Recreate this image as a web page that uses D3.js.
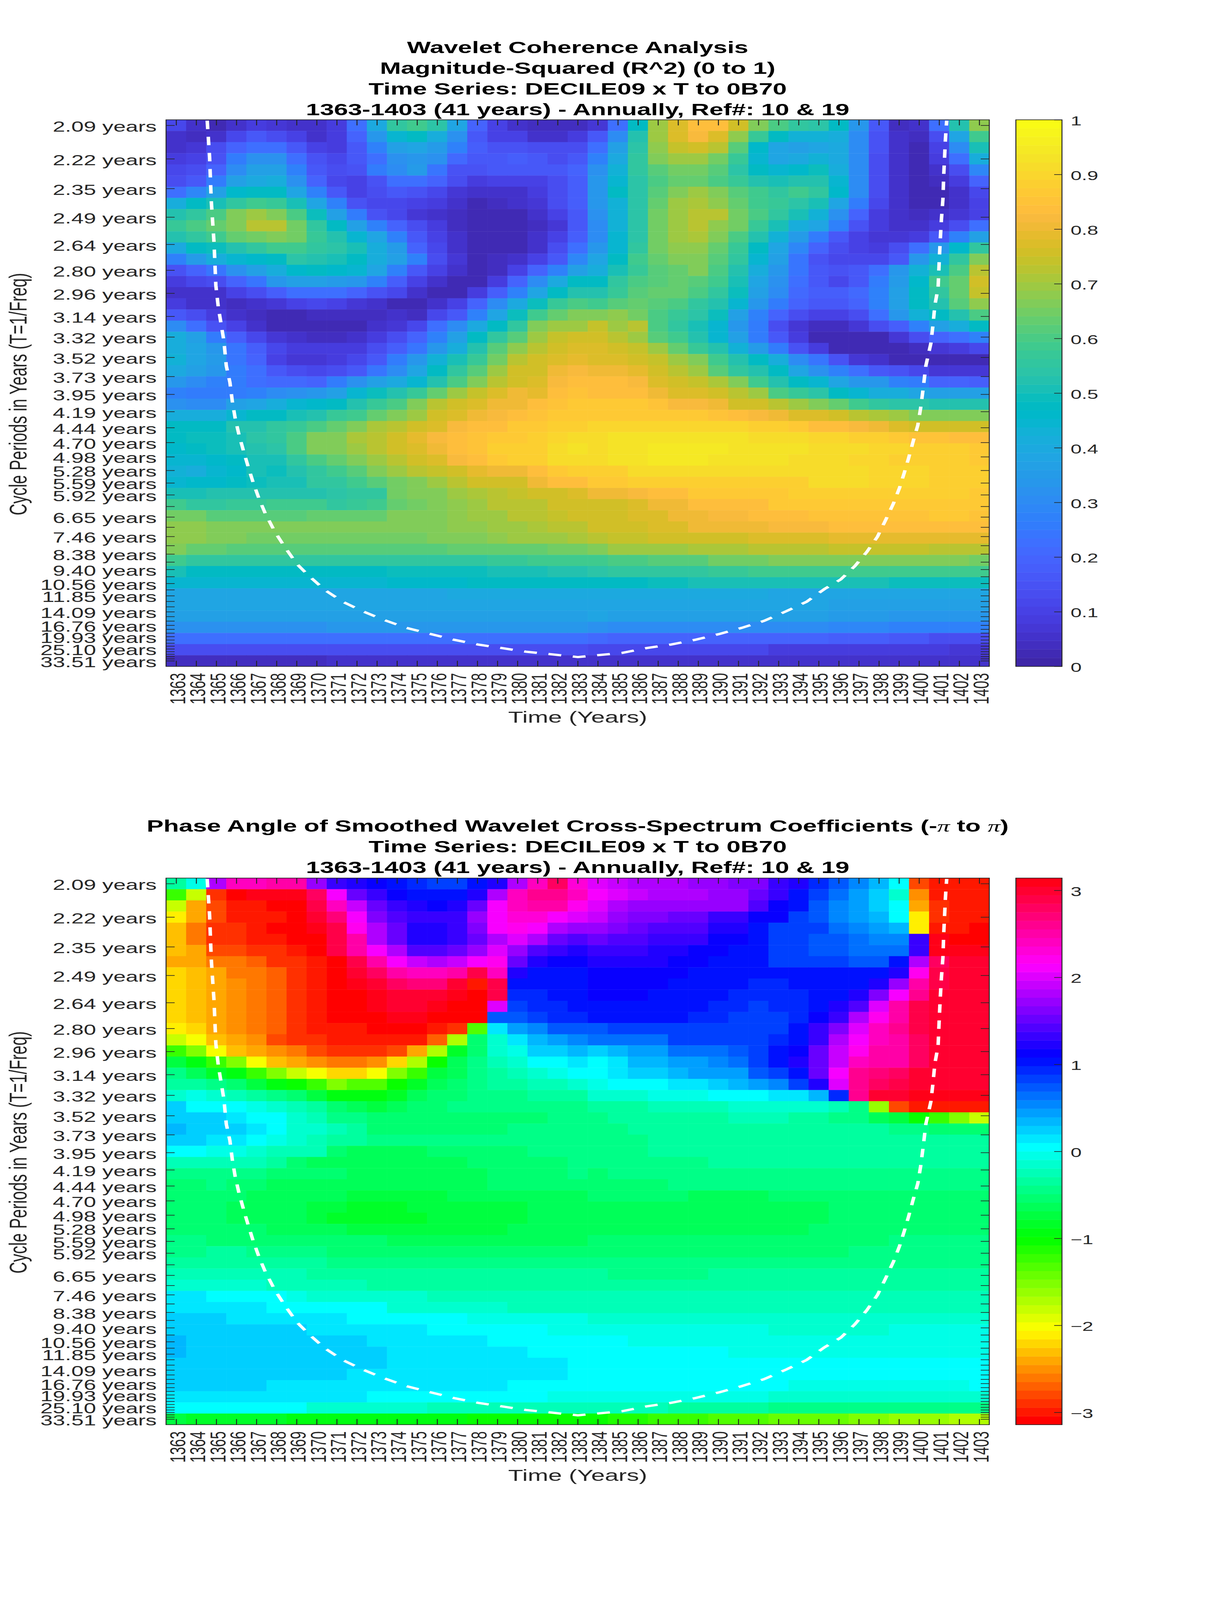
<!DOCTYPE html>
<html>
<head>
<meta charset="utf-8">
<style>
  html, body { margin: 0; height: 100%; overflow: hidden; background: #fff; }
  #chart { width: 100vw; height: 100vh; }
  text { font-family: "Liberation Sans", Arial, sans-serif; }
</style>
<script src="https://cdn.jsdelivr.net/npm/d3@7"></script>
</head>
<body>
<div id="chart"></div>
<script>
const years = d3.range(1363, 1404);

// every tick on the period axis, only some of them carry a label
const periodTicks = [2.09, 2.22, 2.35, 2.49, 2.64, 2.80, 2.96, 3.14, 3.32, 3.52, 3.73, 3.95, 4.19, 4.44, 4.70, 4.98, 5.28, 5.59, 5.92,
  6.28, 6.65, 7.05, 7.46, 7.91, 8.38, 8.88, 9.40, 9.96, 10.56, 11.19, 11.85, 12.55, 13.30, 14.09, 14.93, 15.82, 16.76, 17.76, 18.81,
  19.93, 21.11, 22.37, 23.70, 25.10, 26.60, 28.18, 29.85, 31.63, 33.51];
const periodLabels = ["2.09", "2.22", "2.35", "2.49", "2.64", "2.80", "2.96", "3.14", "3.32", "3.52", "3.73", "3.95", "4.19", "4.44", "4.70",
  "4.98", "5.28", "5.59", "5.92", "6.65", "7.46", "8.38", "9.40", "10.56", "11.85", "14.09", "16.76", "19.93", "25.10", "33.51"];

const coherenceTicks = [0, 0.1, 0.2, 0.3, 0.4, 0.5, 0.6, 0.7, 0.8, 0.9, 1];
const phaseTicks = [-3, -2, -1, 0, 1, 2, 3];

// cone of influence
const coiYears = [1364.55, 1364.67, 1364.75, 1364.89, 1364.98, 1365.10, 1365.38, 1365.50, 1365.68, 1365.80, 1365.94, 1366.13, 1366.36, 1366.57,
  1366.83, 1367.13, 1367.43, 1367.92, 1368.42, 1369.01, 1369.61, 1370.40, 1371.30, 1372.29, 1373.28, 1374.47, 1375.67, 1376.85, 1378.05, 1379.24,
  1380.43, 1381.62, 1383.01, 1385.22, 1386.42, 1387.64, 1388.85, 1390.06, 1391.17, 1392.28, 1393.39, 1394.40, 1395.30, 1396.10, 1396.80, 1397.40,
  1397.93, 1398.34, 1398.73, 1399.03, 1399.27, 1399.48, 1399.70, 1399.94, 1400.08, 1400.20, 1400.34, 1400.59, 1400.69, 1400.79, 1400.95, 1401.00,
  1401.05, 1401.11, 1401.19, 1401.23, 1401.27, 1401.31, 1401.35, 1401.38];
const coiPeriods = [2.073, 2.216, 2.406, 2.632, 2.904, 3.064, 3.357, 3.61, 3.80, 4.045, 4.286, 4.558, 4.866, 5.166,
  5.567, 6.036, 6.503, 7.25, 8.0, 9.0, 9.89, 11.2, 12.6, 14.0, 15.5, 17.4, 19.1, 21.07, 23.0, 24.7,
  26.7, 28.2, 30.3, 27.4, 24.7, 23.0, 21.07, 19.1, 17.4, 15.8, 14.0, 12.6, 11.1, 10.2, 9.16, 8.26,
  7.47, 6.76, 6.18, 5.72, 5.33, 5.01, 4.69, 4.40, 4.14, 3.89, 3.61, 3.38, 3.22, 3.05, 2.92, 2.76,
  2.63, 2.51, 2.40, 2.29, 2.22, 2.15, 2.10, 2.073];

// rows top to bottom (short periods first), columns 1363..1403
const coherence = [
  [.12,.05,.03,.05,.08,.07,.05,.05,.09,.22,.40,.55,.58,.54,.38,.20,.10,.05,.04,.04,.04,.07,.22,.47,.70,.78,.84,.83,.75,.67,.60,.55,.54,.47,.34,.17,.04,.05,.22,.52,.68],
  [.06,.04,.06,.12,.16,.14,.10,.05,.09,.20,.34,.44,.47,.42,.32,.17,.10,.10,.06,.06,.08,.16,.30,.52,.70,.77,.82,.78,.68,.57,.47,.43,.43,.42,.31,.15,.05,.04,.14,.38,.58],
  [.06,.07,.14,.20,.23,.23,.16,.10,.09,.17,.28,.36,.38,.35,.28,.18,.15,.15,.14,.14,.14,.22,.36,.54,.68,.74,.76,.73,.62,.46,.39,.36,.38,.40,.31,.15,.05,.03,.10,.31,.50],
  [.09,.10,.15,.25,.32,.32,.23,.15,.12,.17,.22,.32,.33,.32,.21,.16,.17,.18,.16,.14,.16,.28,.40,.55,.66,.70,.70,.65,.57,.44,.38,.40,.43,.40,.30,.14,.06,.03,.08,.22,.42],
  [.11,.14,.19,.31,.37,.37,.28,.17,.14,.15,.26,.30,.35,.24,.15,.15,.17,.17,.16,.16,.20,.32,.43,.55,.62,.65,.65,.61,.54,.47,.45,.46,.49,.42,.30,.13,.05,.03,.05,.14,.29],
  [.13,.16,.26,.36,.40,.41,.32,.20,.12,.10,.15,.23,.22,.20,.14,.09,.10,.10,.10,.14,.18,.33,.44,.54,.60,.63,.64,.60,.57,.53,.50,.52,.53,.44,.31,.13,.06,.03,.04,.08,.20],
  [.22,.29,.36,.46,.48,.48,.38,.28,.17,.10,.13,.16,.15,.11,.07,.05,.06,.06,.08,.13,.18,.34,.47,.54,.62,.66,.69,.67,.62,.58,.56,.58,.55,.46,.30,.13,.06,.03,.02,.05,.12],
  [.41,.47,.51,.55,.59,.57,.51,.38,.27,.15,.12,.12,.10,.08,.05,.03,.04,.05,.07,.13,.18,.33,.43,.54,.63,.69,.71,.68,.63,.59,.57,.54,.50,.38,.26,.12,.06,.03,.03,.05,.10],
  [.52,.55,.60,.66,.70,.67,.60,.49,.36,.26,.15,.12,.07,.06,.04,.02,.02,.03,.06,.10,.17,.32,.43,.54,.65,.70,.72,.72,.65,.60,.56,.50,.43,.32,.20,.09,.05,.04,.05,.07,.10],
  [.57,.60,.64,.67,.73,.73,.65,.55,.47,.37,.28,.20,.13,.08,.04,.02,.02,.02,.04,.07,.16,.30,.43,.54,.65,.69,.72,.68,.65,.57,.50,.42,.38,.28,.15,.08,.05,.05,.08,.14,.22],
  [.52,.55,.59,.63,.65,.67,.65,.57,.52,.45,.39,.28,.17,.10,.05,.03,.02,.02,.05,.10,.18,.30,.44,.54,.65,.69,.71,.66,.60,.53,.43,.35,.26,.17,.10,.07,.07,.09,.16,.27,.37],
  [.40,.47,.49,.53,.55,.58,.58,.56,.54,.50,.42,.35,.20,.12,.06,.03,.02,.03,.05,.13,.23,.33,.44,.55,.65,.68,.68,.63,.57,.48,.38,.29,.20,.14,.10,.09,.13,.22,.33,.46,.55],
  [.27,.35,.42,.45,.46,.48,.54,.52,.51,.48,.42,.36,.27,.13,.07,.03,.04,.05,.10,.17,.29,.38,.47,.58,.64,.67,.67,.62,.56,.45,.36,.24,.15,.12,.12,.12,.17,.33,.43,.56,.66],
  [.15,.20,.24,.32,.37,.42,.46,.47,.46,.45,.38,.28,.17,.10,.05,.03,.04,.10,.19,.28,.36,.42,.51,.57,.62,.63,.66,.60,.52,.42,.33,.24,.17,.15,.16,.22,.33,.43,.50,.60,.72],
  [.08,.11,.14,.20,.24,.33,.36,.36,.35,.34,.27,.18,.10,.05,.02,.03,.08,.20,.30,.40,.47,.47,.55,.60,.62,.64,.62,.58,.50,.38,.32,.22,.17,.12,.17,.26,.35,.46,.58,.64,.75],
  [.06,.05,.06,.10,.13,.18,.22,.23,.23,.20,.15,.11,.05,.03,.03,.08,.18,.28,.38,.47,.53,.53,.57,.62,.64,.63,.60,.55,.49,.37,.30,.21,.18,.18,.21,.28,.37,.47,.55,.64,.74],
  [.08,.06,.06,.04,.06,.07,.10,.12,.10,.07,.05,.03,.03,.05,.10,.20,.30,.40,.49,.57,.60,.58,.62,.64,.62,.60,.56,.53,.45,.33,.26,.19,.17,.17,.20,.27,.36,.47,.52,.61,.68],
  [.16,.13,.09,.05,.04,.03,.03,.04,.04,.04,.04,.05,.04,.12,.17,.28,.38,.49,.58,.63,.67,.67,.68,.65,.60,.57,.54,.49,.37,.27,.20,.13,.10,.10,.14,.23,.33,.43,.48,.53,.60],
  [.30,.23,.15,.10,.06,.03,.02,.02,.02,.03,.06,.07,.12,.22,.30,.40,.48,.55,.66,.70,.70,.74,.70,.72,.60,.56,.50,.45,.33,.25,.13,.07,.04,.04,.07,.14,.18,.28,.36,.42,.48],
  [.42,.36,.26,.18,.12,.07,.05,.04,.04,.06,.09,.13,.19,.27,.37,.47,.55,.62,.70,.74,.75,.75,.73,.70,.62,.58,.52,.45,.36,.25,.17,.08,.03,.02,.02,.03,.07,.14,.19,.23,.28],
  [.42,.38,.33,.24,.18,.11,.09,.08,.08,.09,.13,.18,.24,.33,.42,.53,.62,.68,.72,.76,.77,.77,.76,.74,.69,.63,.57,.52,.43,.35,.26,.15,.08,.03,.02,.02,.02,.04,.07,.08,.12],
  [.43,.38,.35,.24,.20,.10,.07,.07,.08,.12,.17,.25,.33,.43,.50,.57,.65,.73,.76,.77,.79,.77,.77,.76,.74,.70,.66,.58,.52,.48,.42,.31,.24,.15,.07,.05,.02,.02,.02,.02,.02],
  [.40,.37,.33,.25,.22,.16,.13,.12,.14,.17,.24,.30,.38,.47,.55,.61,.70,.75,.76,.80,.82,.80,.80,.79,.75,.72,.69,.62,.55,.52,.47,.38,.32,.28,.22,.17,.15,.12,.07,.07,.07],
  [.33,.31,.28,.26,.23,.21,.21,.20,.25,.32,.36,.40,.44,.53,.60,.67,.72,.76,.78,.82,.83,.83,.83,.82,.78,.75,.74,.71,.66,.59,.53,.47,.44,.38,.34,.34,.28,.26,.20,.20,.18],
  [.28,.26,.26,.25,.28,.30,.32,.33,.37,.44,.49,.53,.57,.63,.69,.74,.78,.80,.79,.84,.85,.84,.84,.84,.80,.78,.77,.76,.72,.69,.60,.57,.54,.48,.45,.42,.41,.38,.37,.37,.37],
  [.32,.30,.30,.36,.38,.42,.44,.46,.47,.52,.57,.60,.67,.72,.75,.78,.80,.81,.83,.85,.86,.86,.86,.86,.85,.82,.82,.81,.76,.76,.73,.70,.67,.63,.58,.56,.54,.54,.53,.53,.53],
  [.42,.42,.41,.45,.47,.47,.50,.53,.57,.59,.63,.67,.70,.75,.78,.80,.82,.84,.85,.86,.87,.87,.87,.87,.87,.86,.86,.85,.83,.82,.80,.78,.77,.75,.73,.71,.69,.67,.66,.66,.66],
  [.47,.47,.47,.52,.53,.56,.57,.60,.63,.67,.71,.73,.76,.77,.82,.83,.84,.86,.86,.88,.89,.90,.90,.90,.90,.90,.90,.90,.90,.88,.88,.86,.84,.84,.82,.80,.78,.76,.75,.75,.75],
  [.47,.49,.49,.51,.54,.56,.60,.66,.67,.71,.73,.75,.79,.82,.83,.85,.87,.87,.88,.90,.92,.92,.93,.93,.93,.93,.93,.93,.93,.91,.91,.91,.90,.90,.88,.88,.86,.85,.85,.83,.83],
  [.46,.47,.49,.50,.53,.54,.60,.66,.67,.70,.72,.75,.77,.81,.84,.85,.88,.88,.89,.91,.93,.92,.93,.93,.95,.95,.95,.95,.93,.93,.93,.93,.92,.91,.91,.90,.90,.88,.88,.88,.86],
  [.45,.45,.46,.47,.51,.50,.55,.60,.63,.66,.70,.73,.75,.78,.82,.84,.87,.88,.89,.91,.92,.92,.93,.93,.94,.94,.94,.93,.93,.93,.93,.92,.92,.91,.90,.90,.89,.89,.88,.88,.87],
  [.43,.42,.45,.46,.50,.49,.52,.55,.59,.61,.67,.70,.72,.74,.76,.79,.80,.81,.84,.87,.88,.89,.89,.91,.91,.91,.91,.91,.91,.91,.91,.91,.91,.91,.91,.90,.90,.90,.89,.89,.89],
  [.44,.46,.46,.47,.49,.50,.51,.55,.56,.58,.62,.65,.66,.70,.73,.75,.75,.76,.81,.83,.84,.86,.87,.88,.88,.88,.89,.89,.89,.89,.89,.89,.91,.91,.91,.90,.90,.90,.89,.89,.89],
  [.50,.50,.52,.52,.53,.53,.53,.52,.54,.55,.56,.65,.66,.67,.69,.71,.73,.74,.75,.76,.78,.80,.80,.82,.84,.84,.86,.87,.87,.87,.87,.88,.88,.89,.89,.89,.89,.89,.89,.89,.87],
  [.58,.56,.56,.57,.57,.58,.58,.58,.56,.57,.58,.63,.65,.66,.68,.69,.72,.73,.73,.75,.76,.76,.76,.78,.80,.80,.83,.83,.84,.84,.86,.86,.86,.86,.86,.87,.87,.87,.87,.87,.87],
  [.65,.65,.61,.62,.62,.62,.62,.63,.63,.63,.63,.66,.67,.67,.68,.69,.70,.72,.73,.74,.75,.75,.76,.78,.78,.80,.80,.82,.82,.84,.84,.84,.85,.85,.85,.85,.85,.85,.86,.86,.85],
  [.68,.68,.66,.66,.66,.66,.66,.66,.66,.66,.66,.66,.66,.67,.68,.68,.69,.70,.71,.72,.73,.75,.76,.76,.78,.78,.80,.80,.80,.80,.82,.82,.82,.83,.83,.83,.83,.83,.83,.83,.83],
  [.68,.68,.67,.66,.65,.65,.65,.65,.65,.65,.65,.65,.65,.66,.66,.67,.68,.69,.69,.70,.71,.72,.74,.74,.75,.75,.75,.76,.76,.78,.78,.78,.78,.79,.79,.79,.79,.79,.79,.79,.79],
  [.66,.63,.63,.62,.62,.62,.62,.62,.62,.62,.62,.62,.62,.62,.63,.63,.63,.64,.64,.65,.65,.67,.69,.69,.70,.70,.71,.71,.71,.73,.73,.73,.73,.74,.74,.74,.74,.74,.73,.73,.73],
  [.58,.56,.56,.56,.56,.56,.56,.56,.56,.56,.56,.56,.56,.56,.56,.56,.57,.57,.58,.58,.58,.59,.60,.60,.62,.62,.62,.65,.65,.65,.67,.67,.67,.67,.67,.67,.67,.67,.67,.66,.65],
  [.50,.47,.47,.47,.47,.47,.47,.47,.47,.47,.47,.49,.49,.49,.49,.49,.51,.51,.51,.53,.53,.54,.55,.55,.55,.55,.55,.57,.57,.58,.58,.58,.58,.58,.59,.59,.59,.59,.59,.58,.58],
  [.44,.44,.44,.44,.44,.44,.44,.44,.45,.45,.45,.46,.46,.46,.46,.47,.47,.47,.47,.48,.48,.48,.48,.48,.49,.49,.50,.50,.50,.50,.50,.50,.50,.50,.50,.50,.49,.49,.49,.49,.49],
  [.39,.39,.39,.39,.39,.39,.39,.39,.39,.39,.39,.39,.39,.39,.40,.40,.40,.40,.40,.40,.40,.40,.40,.40,.40,.40,.40,.40,.40,.40,.39,.39,.39,.39,.39,.39,.39,.39,.38,.38,.38],
  [.38,.39,.39,.39,.39,.39,.39,.39,.39,.39,.39,.39,.39,.39,.39,.39,.39,.39,.39,.39,.39,.39,.39,.39,.39,.39,.39,.39,.39,.39,.39,.39,.39,.37,.37,.37,.37,.37,.37,.36,.36],
  [.37,.37,.37,.37,.37,.37,.37,.37,.37,.37,.37,.37,.37,.37,.37,.37,.37,.37,.37,.37,.37,.38,.37,.37,.37,.37,.37,.37,.37,.36,.36,.36,.36,.35,.35,.35,.34,.34,.33,.33,.33],
  [.32,.32,.32,.32,.32,.32,.32,.32,.33,.33,.33,.33,.33,.33,.33,.33,.33,.33,.33,.33,.33,.32,.31,.31,.31,.31,.31,.30,.30,.30,.30,.30,.30,.29,.29,.29,.28,.28,.27,.27,.27],
  [.23,.23,.23,.23,.23,.23,.23,.23,.23,.23,.23,.23,.23,.23,.23,.23,.23,.23,.22,.22,.22,.21,.20,.20,.20,.20,.20,.19,.19,.19,.19,.19,.19,.18,.18,.18,.16,.16,.14,.14,.14],
  [.14,.14,.14,.13,.13,.13,.13,.13,.13,.13,.13,.13,.13,.13,.13,.13,.13,.13,.13,.13,.13,.12,.12,.12,.12,.12,.12,.11,.11,.11,.09,.09,.09,.09,.09,.09,.08,.08,.08,.07,.07],
  [.04,.04,.04,.04,.04,.04,.04,.04,.05,.05,.05,.05,.05,.05,.05,.05,.05,.05,.05,.05,.05,.05,.05,.05,.05,.05,.05,.06,.06,.06,.06,.06,.06,.06,.06,.06,.05,.05,.05,.05,.06]
];

const phase = [
  [-.30,-.05,1.80,2.40,2.45,2.50,2.50,1.75,1.30,1.20,1.10,1.05,.95,.88,.88,1.00,1.25,1.80,2.40,2.75,2.35,2.00,1.95,1.85,1.85,1.80,1.75,1.70,1.65,1.60,1.35,1.20,.90,.70,.50,.33,.00,-2.75,-2.95,-3.00,-3.00],
  [-1.20,-1.85,-2.88,-3.12,3.05,3.05,3.05,2.78,2.10,1.55,1.30,1.15,1.05,1.05,1.05,1.20,1.80,2.40,2.60,2.60,2.40,2.10,2.00,1.90,1.80,1.80,1.78,1.75,1.70,1.50,1.35,1.05,.82,.60,.42,.20,-.10,-2.55,-2.95,-3.00,-3.00],
  [-1.85,-2.40,-2.75,-2.95,-3.00,-3.14,-3.14,2.90,2.45,1.90,1.50,1.30,1.25,1.12,1.20,1.55,2.10,2.40,2.50,2.50,2.25,2.00,1.85,1.75,1.75,1.70,1.70,1.70,1.68,1.40,1.12,1.05,.70,.50,.45,.22,.00,-2.40,-2.85,-3.00,-3.00],
  [-2.15,-2.45,-2.75,-2.95,-2.95,-3.00,-3.14,2.95,2.70,2.10,1.65,1.40,1.28,1.28,1.32,1.75,2.10,2.35,2.30,2.10,2.00,1.90,1.75,1.65,1.62,1.50,1.50,1.35,1.33,1.12,1.08,.80,.75,.50,.40,.30,.05,-2.15,-2.88,-3.00,-3.00],
  [-2.35,-2.60,-2.85,-2.88,-2.95,-3.05,-3.05,3.10,2.90,2.20,1.80,1.55,1.27,1.27,1.30,1.60,2.10,2.25,2.15,1.85,1.75,1.75,1.60,1.55,1.45,1.42,1.40,1.25,1.22,1.05,.88,.80,.80,.60,.50,.40,.30,-2.15,-3.00,-3.00,-3.14],
  [-2.35,-2.60,-2.85,-2.85,-2.95,-2.95,-3.05,-3.14,2.90,2.50,1.85,1.50,1.27,1.27,1.30,1.55,1.85,2.05,1.80,1.50,1.47,1.50,1.42,1.42,1.35,1.35,1.33,1.17,1.08,1.00,.88,.80,.72,.70,.60,.50,.50,1.35,3.05,-3.14,-3.14],
  [-2.35,-2.45,-2.75,-2.78,-2.85,-2.85,-2.95,-3.05,2.90,2.55,2.10,1.80,1.47,1.45,1.50,1.75,2.00,1.75,1.47,1.32,1.25,1.35,1.32,1.32,1.25,1.25,1.12,1.10,1.05,1.05,.88,.88,.75,.73,.68,.66,.66,1.35,3.05,3.10,3.12],
  [-2.40,-2.45,-2.60,-2.65,-2.72,-2.85,-2.85,-2.95,-3.14,2.85,2.50,2.10,1.90,1.80,1.95,2.10,2.20,1.55,1.27,1.15,1.15,1.20,1.20,1.20,1.20,1.12,1.10,1.05,1.03,1.03,.88,.88,.88,.88,.75,.75,1.05,1.85,2.75,2.95,2.95],
  [-2.25,-2.35,-2.45,-2.58,-2.65,-2.72,-2.85,-2.95,-3.05,2.95,2.75,2.50,2.42,2.38,2.50,2.85,2.40,1.25,1.05,1.03,1.02,1.10,1.10,1.10,1.10,1.08,1.05,1.03,1.00,1.00,1.00,1.00,1.00,1.00,1.00,1.07,1.27,2.20,2.85,2.95,2.95],
  [-2.25,-2.35,-2.45,-2.55,-2.65,-2.72,-2.85,-2.95,-3.05,3.05,2.95,2.78,2.70,2.72,2.95,-3.00,2.90,1.05,1.03,1.02,1.03,1.10,1.10,1.10,1.08,1.05,1.03,1.00,1.00,.90,.90,1.00,1.00,1.04,1.05,1.20,1.75,2.50,2.85,2.95,3.00],
  [-2.25,-2.35,-2.45,-2.55,-2.65,-2.72,-2.85,-2.95,-3.05,-3.14,3.10,3.02,2.95,3.00,3.05,-3.05,2.85,.95,.90,1.03,1.03,1.12,1.12,1.12,1.04,1.04,1.00,1.00,.92,.92,.92,.92,1.02,1.05,1.25,1.65,2.10,2.60,2.95,3.00,3.00],
  [-2.25,-2.35,-2.45,-2.55,-2.65,-2.72,-2.85,-2.95,-3.05,-3.14,3.08,3.00,2.98,3.05,-3.14,-3.14,2.05,.80,.95,.95,1.00,1.05,1.05,1.05,1.05,1.00,1.00,.92,.90,.80,.90,.92,1.05,1.20,1.45,2.05,2.55,2.90,2.98,3.00,3.00],
  [-2.25,-2.35,-2.45,-2.55,-2.65,-2.72,-2.85,-2.95,-3.05,-3.14,-3.14,3.05,3.05,-3.14,-3.14,-3.14,.75,.72,.80,.90,.95,1.00,1.00,1.00,1.00,1.00,.92,.92,.85,.85,.85,.98,1.10,1.30,1.80,2.20,2.55,2.90,3.00,3.00,3.00],
  [-2.15,-2.25,-2.45,-2.55,-2.65,-2.72,-2.85,-2.95,-3.00,-3.00,-3.14,-3.14,-3.14,-3.00,-2.85,-1.35,.10,.45,.52,.70,.77,.75,.80,.80,.80,.80,.85,.85,.85,.85,.85,1.05,1.28,1.60,2.05,2.45,2.60,2.85,3.00,3.00,3.00],
  [-1.78,-2.05,-2.35,-2.45,-2.55,-2.75,-2.85,-2.85,-2.95,-3.00,-3.00,-3.00,-2.95,-2.68,-1.75,-.50,-.10,.10,.37,.47,.52,.60,.62,.65,.65,.80,.80,.80,.80,.80,.92,1.05,1.35,1.85,2.10,2.45,2.55,2.75,2.95,2.95,2.95],
  [-1.20,-1.55,-1.98,-2.28,-2.45,-2.55,-2.62,-2.75,-2.85,-2.85,-2.85,-2.75,-2.45,-1.75,-.85,-.50,-.15,-.05,.20,.28,.38,.22,.38,.45,.45,.60,.60,.60,.75,.82,1.05,1.12,1.55,1.90,2.20,2.50,2.55,2.78,2.95,2.95,2.95],
  [-.78,-.95,-1.25,-1.55,-2.00,-2.28,-2.45,-2.55,-2.65,-2.65,-2.55,-2.25,-1.75,-1.05,-.65,-.45,-.20,-.12,.00,.00,.10,.00,.18,.33,.33,.45,.45,.50,.68,.82,1.05,1.18,1.55,1.90,2.40,2.50,2.55,2.75,2.95,2.95,2.95],
  [-.45,-.60,-.85,-.92,-1.20,-1.55,-1.85,-2.05,-2.18,-2.20,-2.00,-1.55,-1.20,-.78,-.60,-.45,-.30,-.20,-.12,-.05,.00,.00,.10,.20,.20,.33,.40,.45,.45,.75,.82,1.05,1.55,2.15,2.60,2.70,2.75,2.95,2.95,3.00,2.95],
  [-.38,-.38,-.45,-.55,-.72,-.95,-1.05,-1.25,-1.50,-1.35,-1.30,-1.05,-.85,-.62,-.55,-.45,-.35,-.30,-.25,-.20,-.12,-.05,.00,.05,.05,.12,.15,.20,.30,.40,.52,.82,1.25,2.05,2.62,2.80,2.85,2.98,3.00,3.00,3.00],
  [-.10,-.08,-.17,-.20,-.30,-.42,-.50,-.75,-.95,-.95,-.95,-.85,-.65,-.55,-.50,-.45,-.42,-.42,-.35,-.35,-.30,-.15,-.12,-.12,-.08,-.08,-.05,.00,.00,.00,.10,.12,.32,.90,2.65,2.95,3.02,3.05,3.14,3.14,3.14],
  [.20,.02,.00,.00,-.05,-.15,-.25,-.38,-.50,-.60,-.70,-.60,-.55,-.50,-.48,-.48,-.48,-.45,-.45,-.45,-.42,-.33,-.30,-.30,-.25,-.25,-.20,-.20,-.15,-.15,-.15,-.15,-.15,-.25,-.45,-1.60,-2.75,-2.95,-3.00,-3.00,-3.00],
  [.25,.25,.25,.10,.08,.00,-.10,-.20,-.42,-.47,-.50,-.50,-.50,-.50,-.50,-.50,-.50,-.50,-.50,-.47,-.45,-.40,-.38,-.35,-.35,-.33,-.33,-.30,-.28,-.28,-.28,-.35,-.35,-.40,-.45,-.60,-.75,-1.05,-1.20,-1.55,-1.80],
  [.33,.25,.25,.22,.12,.02,-.10,-.15,-.28,-.35,-.50,-.52,-.52,-.52,-.52,-.52,-.50,-.48,-.45,-.45,-.42,-.42,-.42,-.38,-.38,-.38,-.38,-.38,-.38,-.36,-.36,-.36,-.36,-.36,-.36,-.36,-.42,-.48,-.50,-.52,-.55],
  [.28,.28,.12,.12,.02,-.08,-.18,-.27,-.30,-.38,-.42,-.42,-.45,-.45,-.45,-.45,-.47,-.47,-.42,-.42,-.40,-.40,-.40,-.40,-.33,-.33,-.33,-.33,-.33,-.33,-.33,-.33,-.33,-.33,-.33,-.33,-.33,-.33,-.36,-.38,-.38],
  [.02,.02,-.08,-.08,-.12,-.20,-.25,-.25,-.55,-.62,-.62,-.65,-.65,-.52,-.50,-.50,-.52,-.50,-.45,-.45,-.42,-.42,-.42,-.42,-.36,-.33,-.33,-.33,-.33,-.33,-.33,-.33,-.33,-.33,-.33,-.33,-.33,-.33,-.33,-.33,-.33],
  [-.25,-.27,-.27,-.27,-.28,-.32,-.58,-.60,-.60,-.62,-.62,-.62,-.62,-.62,-.62,-.50,-.50,-.50,-.50,-.50,-.42,-.45,-.45,-.45,-.45,-.45,-.45,-.38,-.38,-.38,-.38,-.38,-.38,-.38,-.38,-.38,-.38,-.38,-.36,-.36,-.36],
  [-.42,-.42,-.42,-.45,-.45,-.55,-.55,-.57,-.57,-.60,-.60,-.60,-.60,-.60,-.60,-.60,-.52,-.52,-.52,-.52,-.47,-.52,-.47,-.47,-.47,-.47,-.47,-.47,-.47,-.47,-.47,-.47,-.47,-.47,-.47,-.47,-.42,-.42,-.42,-.42,-.42],
  [-.50,-.50,-.47,-.50,-.50,-.60,-.60,-.62,-.62,-.65,-.65,-.65,-.65,-.65,-.65,-.65,-.57,-.57,-.57,-.57,-.52,-.52,-.52,-.52,-.52,-.47,-.47,-.47,-.47,-.47,-.47,-.47,-.47,-.47,-.47,-.47,-.47,-.47,-.47,-.47,-.40],
  [-.52,-.52,-.52,-.52,-.60,-.62,-.62,-.65,-.68,-.72,-.75,-.75,-.70,-.70,-.65,-.65,-.62,-.62,-.62,-.62,-.62,-.57,-.57,-.57,-.57,-.57,-.60,-.60,-.60,-.60,-.52,-.52,-.52,-.52,-.50,-.50,-.50,-.50,-.50,-.50,-.50],
  [-.55,-.55,-.55,-.60,-.65,-.65,-.67,-.78,-.78,-.80,-.80,-.80,-.78,-.78,-.78,-.72,-.72,-.70,-.65,-.65,-.65,-.65,-.65,-.62,-.62,-.62,-.62,-.60,-.60,-.60,-.60,-.60,-.60,-.55,-.52,-.52,-.52,-.50,-.50,-.50,-.50],
  [-.55,-.55,-.55,-.60,-.62,-.65,-.67,-.75,-.80,-.80,-.80,-.80,-.80,-.75,-.75,-.78,-.72,-.70,-.65,-.65,-.65,-.65,-.65,-.67,-.67,-.60,-.60,-.60,-.60,-.60,-.60,-.60,-.60,-.55,-.52,-.52,-.52,-.50,-.50,-.50,-.50],
  [-.52,-.58,-.58,-.58,-.58,-.65,-.65,-.68,-.68,-.70,-.70,-.70,-.70,-.70,-.70,-.70,-.70,-.68,-.65,-.65,-.65,-.65,-.65,-.67,-.62,-.60,-.60,-.60,-.60,-.60,-.60,-.60,-.55,-.52,-.52,-.50,-.50,-.50,-.50,-.50,-.50],
  [-.45,-.45,-.50,-.50,-.50,-.50,-.58,-.58,-.58,-.58,-.58,-.63,-.63,-.63,-.63,-.63,-.63,-.63,-.63,-.63,-.63,-.58,-.57,-.55,-.55,-.55,-.55,-.55,-.55,-.55,-.50,-.50,-.50,-.50,-.50,-.50,-.45,-.45,-.45,-.45,-.45],
  [-.42,-.42,-.38,-.38,-.47,-.47,-.47,-.47,-.50,-.50,-.50,-.50,-.50,-.55,-.55,-.55,-.55,-.55,-.55,-.55,-.55,-.50,-.52,-.52,-.52,-.52,-.50,-.50,-.50,-.50,-.50,-.50,-.50,-.50,-.45,-.45,-.45,-.45,-.43,-.42,-.42],
  [-.35,-.35,-.35,-.35,-.38,-.38,-.38,-.38,-.42,-.42,-.42,-.42,-.42,-.45,-.45,-.45,-.48,-.48,-.48,-.48,-.48,-.47,-.47,-.47,-.47,-.47,-.47,-.47,-.47,-.47,-.47,-.47,-.47,-.47,-.40,-.40,-.40,-.40,-.40,-.40,-.40],
  [-.20,-.20,-.28,-.28,-.28,-.28,-.28,-.33,-.33,-.33,-.33,-.33,-.38,-.38,-.38,-.38,-.38,-.38,-.38,-.38,-.38,-.38,-.42,-.42,-.42,-.42,-.42,-.36,-.36,-.36,-.36,-.36,-.36,-.36,-.36,-.36,-.36,-.36,-.36,-.33,-.33],
  [-.10,-.10,-.10,-.10,-.10,-.20,-.20,-.20,-.20,-.20,-.30,-.30,-.30,-.30,-.30,-.30,-.35,-.35,-.35,-.35,-.35,-.35,-.35,-.35,-.35,-.33,-.33,-.33,-.33,-.33,-.33,-.33,-.33,-.33,-.33,-.33,-.33,-.30,-.30,-.30,-.30],
  [.10,.10,.00,.00,.00,.00,-.05,-.15,-.15,-.15,-.15,-.15,-.15,-.25,-.25,-.25,-.25,-.25,-.25,-.25,-.25,-.27,-.27,-.27,-.27,-.27,-.27,-.27,-.27,-.27,-.27,-.27,-.27,-.27,-.27,-.27,-.27,-.27,-.27,-.27,-.27],
  [.12,.12,.12,.10,.10,.00,.00,.00,.00,.00,.00,-.12,-.12,-.12,-.12,-.12,-.12,-.20,-.22,-.22,-.22,-.22,-.25,-.25,-.25,-.25,-.25,-.25,-.25,-.25,-.25,-.25,-.25,-.25,-.25,-.25,-.25,-.25,-.25,-.25,-.25],
  [.20,.20,.20,.10,.10,.10,.10,.10,.10,.02,.02,.02,.02,.02,.02,-.08,-.08,-.08,-.08,-.08,-.08,-.12,-.17,-.17,-.17,-.17,-.17,-.17,-.17,-.17,-.17,-.17,-.17,-.17,-.17,-.17,-.17,-.17,-.17,-.17,-.10],
  [.22,.22,.22,.22,.22,.22,.22,.12,.12,.12,.12,.12,.12,.02,.02,.02,.02,.02,.02,-.04,-.04,-.04,-.04,-.04,-.04,-.04,-.04,-.04,-.04,-.07,-.13,-.13,-.13,-.13,-.13,-.13,-.08,-.08,-.08,-.08,-.08],
  [.32,.22,.22,.22,.22,.22,.22,.22,.22,.22,.13,.13,.13,.13,.13,.13,.03,.03,.03,.03,.03,.02,.03,-.02,-.02,-.03,-.03,-.03,-.03,-.03,-.03,-.03,-.03,-.03,-.03,-.03,-.03,-.03,-.03,-.03,-.03],
  [.32,.22,.22,.22,.22,.22,.22,.22,.22,.22,.22,.12,.12,.12,.12,.12,.12,.12,.03,.03,.03,.03,.03,.03,.03,.03,.03,.03,-.02,-.02,-.02,-.02,-.02,-.02,-.02,-.02,-.02,-.02,-.02,-.02,-.02],
  [.22,.22,.22,.22,.22,.22,.22,.22,.22,.22,.22,.12,.12,.12,.12,.12,.12,.12,.12,.12,.02,.02,.02,.02,.02,.02,.02,.02,.02,.02,.02,.02,.02,.02,.02,.02,.02,.02,.02,.02,.02],
  [.22,.22,.22,.22,.22,.22,.22,.22,.22,.12,.12,.12,.12,.12,.12,.12,.12,.12,.12,.12,.02,.02,.02,.02,.02,.02,.02,.02,.02,.02,.02,.02,.02,.02,.02,.02,.02,.02,.02,.02,.02],
  [.22,.22,.22,.22,.22,.12,.12,.12,.12,.12,.12,.12,.12,.12,.12,.12,.12,.03,.03,.03,.03,.03,.03,.03,.03,.03,.03,.03,.03,.03,.03,-.05,-.05,-.05,-.05,-.05,-.05,-.05,-.05,-.05,.02],
  [.12,.12,.12,.12,.12,.12,.12,.12,.12,.12,.03,.03,.03,.03,.03,.03,.03,.03,.03,-.05,-.05,-.03,-.03,-.03,-.03,-.03,-.03,-.03,-.03,-.03,-.12,-.12,-.12,-.12,-.12,-.12,-.12,-.12,-.12,-.12,-.12],
  [.05,.05,.05,.05,.05,.05,.05,-.10,-.10,-.10,-.10,-.10,-.10,-.20,-.20,-.20,-.20,-.20,-.20,-.20,-.20,-.28,-.28,-.28,-.28,-.30,-.30,-.30,-.30,-.30,-.42,-.42,-.42,-.42,-.42,-.42,-.42,-.42,-.42,-.42,-.42],
  [-.78,-.88,-.88,-.88,-.88,-.88,-.95,-.95,-.95,-.95,-.95,-.98,-.98,-.98,-.98,-1.00,-1.00,-1.00,-1.05,-1.05,-1.05,-1.05,-1.10,-1.15,-1.20,-1.25,-1.25,-1.30,-1.30,-1.30,-1.40,-1.40,-1.40,-1.45,-1.55,-1.55,-1.60,-1.65,-1.65,-1.70,-1.72]
];

// MATLAB parula, 64 steps
const parula = [[.2422,.1504,.6603],[.2504,.1650,.7076],[.2578,.1818,.7511],[.2647,.1978,.7952],[.2706,.2147,.8364],[.2751,.2342,.8710],[.2783,.2559,.8991],[.2803,.2782,.9221],
  [.2813,.3006,.9414],[.2810,.3228,.9579],[.2795,.3447,.9717],[.2760,.3667,.9829],[.2699,.3892,.9906],[.2602,.4123,.9952],[.2440,.4358,.9988],[.2206,.4603,.9973],
  [.1963,.4847,.9892],[.1834,.5074,.9798],[.1786,.5289,.9682],[.1764,.5499,.9520],[.1687,.5703,.9359],[.1540,.5902,.9218],[.1460,.6091,.9079],[.1380,.6276,.8973],
  [.1248,.6459,.8883],[.1113,.6635,.8763],[.0952,.6798,.8598],[.0689,.6948,.8394],[.0297,.7082,.8163],[.0036,.7203,.7917],[.0067,.7312,.7660],[.0433,.7411,.7394],
  [.0964,.7500,.7120],[.1408,.7584,.6842],[.1717,.7670,.6554],[.1938,.7758,.6251],[.2161,.7843,.5923],[.2470,.7918,.5567],[.2906,.7973,.5188],[.3406,.8008,.4789],
  [.3909,.8029,.4354],[.4456,.8024,.3909],[.5044,.7993,.3480],[.5616,.7942,.3045],[.6174,.7876,.2612],[.6720,.7793,.2227],[.7242,.7698,.1910],[.7738,.7598,.1646],
  [.8203,.7498,.1535],[.8634,.7406,.1596],[.9035,.7330,.1774],[.9393,.7288,.2100],[.9728,.7298,.2394],[.9956,.7434,.2371],[.9970,.7659,.2199],[.9952,.7893,.2028],
  [.9892,.8136,.1885],[.9786,.8386,.1766],[.9676,.8639,.1643],[.9610,.8890,.1537],[.9597,.9135,.1423],[.9628,.9373,.1265],[.9691,.9606,.1064],[.9769,.9839,.0805]]
  .map(c => d3.rgb(c[0] * 255, c[1] * 255, c[2] * 255).formatHex());
const hsvMap = d3.range(64).map(i => d3.hsl(i * 360 / 64, 1, 0.5).formatHex());

const ink = "#262626";
const plotLeft = 425, plotRight = 2532, plotH = 2136;
const barLeft = 2600, barRight = 2718;

// viewBox is the reference size, the svg fills whatever window it gets
const svg = d3.select("#chart").append("svg")
  .attr("viewBox", "0 0 3125 6252")
  .attr("preserveAspectRatio", "none")
  .style("width", "100%").style("height", "100%")
  .style("display", "block");

const x = d3.scaleLinear().domain([1362.5, 1403.5]).range([plotLeft, plotRight]);
const rowStep = (1 / 2.09 - 1 / 33.51) / 48;
const y = d3.scaleLinear().domain([1 / 2.09 + rowStep / 2, 1 / 33.51 - rowStep / 2]).range([0, plotH]);
const row = d3.scaleBand().domain(d3.range(49)).range([0, plotH]);

const drawPanel = (top, matrix, colorScale, barDomain, barTicks, barFormat, id) => {
  const g = svg.append("g").attr("transform", `translate(0,${top})`);

  // cells, slightly overlapped so no seams show
  g.append("g").selectAll("g").data(matrix).join("g")
    .attr("transform", (d, i) => `translate(0,${row(i)})`)
    .selectAll("rect").data(d => d).join("rect")
    .attr("x", (d, j) => x(years[j] - 0.5))
    .attr("width", (x(1) - x(0)) + 0.6)
    .attr("height", row.bandwidth() + 0.6)
    .attr("fill", d => colorScale(d));

  // dashed cone of influence
  g.append("clipPath").attr("id", id).append("rect")
    .attr("x", plotLeft).attr("width", plotRight - plotLeft).attr("height", plotH);
  const line = d3.line().x(d => x(d[0])).y(d => y(1 / d[1]));
  g.append("path")
    .datum(coiYears.map((yr, i) => [yr, coiPeriods[i]]))
    .attr("d", line)
    .attr("clip-path", `url(#${id})`)
    .attr("fill", "none").attr("stroke", "#fff")
    .attr("stroke-width", 9).attr("stroke-dasharray", "33 30");

  // axes, ticks pointing inward on all four sides
  const styleAxis = (sel, size) => {
    sel.select(".domain").remove();
    sel.selectAll("line").attr("stroke", ink).attr("stroke-width", 2.5);
    sel.selectAll("text").attr("fill", ink).attr("font-size", size).attr("font-family", "Liberation Sans");
  };

  const bottomAxis = g.append("g").attr("transform", `translate(0,${plotH})`)
    .call(d3.axisBottom(x).tickValues(years).tickFormat(d3.format("d")).tickSize(-22).tickSizeOuter(0))
    .call(styleAxis, 55);
  bottomAxis.selectAll("text")
    .attr("transform", "rotate(-90)").attr("x", -26).attr("y", 3).attr("dy", ".36em").attr("text-anchor", "end");
  g.append("g")
    .call(d3.axisTop(x).tickValues(years).tickFormat("").tickSize(-22).tickSizeOuter(0))
    .call(styleAxis, 55);

  const yTickValues = periodTicks.map(p => 1 / p);
  const leftAxis = g.append("g").attr("transform", `translate(${plotLeft},0)`)
    .call(d3.axisLeft(y).tickValues(yTickValues)
      .tickFormat(f => {
        const s = (1 / f).toFixed(2);
        return periodLabels.includes(s) ? `${s} years` : "";
      })
      .tickSize(-22).tickPadding(24).tickSizeOuter(0))
    .call(styleAxis, 57);
  leftAxis.selectAll("text").attr("dy", "0.42em");
  g.append("g").attr("transform", `translate(${plotRight},0)`)
    .call(d3.axisRight(y).tickValues(yTickValues).tickFormat("").tickSize(-22).tickSizeOuter(0))
    .call(styleAxis, 57);

  g.append("rect")
    .attr("x", plotLeft).attr("width", plotRight - plotLeft).attr("height", plotH)
    .attr("fill", "none").attr("stroke", ink).attr("stroke-width", 2.5);

  // axis titles
  g.append("text")
    .attr("x", (plotLeft + plotRight) / 2).attr("y", plotH + 220)
    .attr("text-anchor", "middle").attr("font-size", 63).attr("fill", ink)
    .text("Time (Years)");
  g.append("text")
    .attr("transform", `translate(68,${plotH / 2 + 4}) rotate(-90)`)
    .attr("text-anchor", "middle").attr("font-size", 63).attr("fill", ink)
    .text("Cycle Periods in Years (T=1/Freq)");

  // colorbar
  const barRow = d3.scaleBand().domain(d3.range(64)).range([plotH, 0]);
  g.append("g").selectAll("rect").data(colorScale.range()).join("rect")
    .attr("x", barLeft).attr("width", barRight - barLeft)
    .attr("y", (d, i) => barRow(i)).attr("height", barRow.bandwidth() + 0.6)
    .attr("fill", d => d);
  const barY = d3.scaleLinear().domain(barDomain).range([plotH, 0]);
  const barAxis = g.append("g").attr("transform", `translate(${barRight},0)`)
    .call(d3.axisRight(barY).tickValues(barTicks).tickFormat(barFormat).tickSize(-20).tickPadding(22).tickSizeOuter(0))
    .call(styleAxis, 51);
  barAxis.selectAll("text").attr("dy", "0.42em");
  g.append("rect")
    .attr("x", barLeft).attr("width", barRight - barLeft).attr("height", plotH)
    .attr("fill", "none").attr("stroke", ink).attr("stroke-width", 2.5);
};

const coherenceColor = d3.scaleQuantize().domain([0, 1]).range(parula);
const phaseColor = d3.scaleQuantize().domain([-Math.PI, Math.PI]).range(hsvMap);

drawPanel(468, coherence, coherenceColor, [0, 1], coherenceTicks, d3.format(".1~f"), "clipTop");
drawPanel(3431, phase, phaseColor, [-Math.PI, Math.PI], phaseTicks, d3.format("d"), "clipBottom");

const titleX = (plotLeft + plotRight) / 2;
const addTitle = (lines, baselines) => {
  lines.forEach((txt, i) => {
    svg.append("text")
      .attr("x", titleX).attr("y", baselines[i])
      .attr("text-anchor", "middle").attr("font-size", 64.5).attr("font-weight", "bold").attr("fill", "#000")
      .text(txt);
  });
};
addTitle(["Wavelet Coherence Analysis", "Magnitude-Squared (R^2) (0 to 1)", "Time Series: DECILE09 x T to 0B70", "1363-1403 (41 years) - Annually, Ref#: 10 & 19"],
  [207, 288, 369, 450]);
addTitle(["Time Series: DECILE09 x T to 0B70", "1363-1403 (41 years) - Annually, Ref#: 10 & 19"], [3331, 3412]);

// first title of the phase panel has the pi glyphs in a serif face
const phaseTitle = svg.append("text")
  .attr("x", titleX).attr("y", 3250)
  .attr("text-anchor", "middle").attr("font-size", 64.5).attr("font-weight", "bold").attr("fill", "#000");
phaseTitle.append("tspan").text("Phase Angle of Smoothed Wavelet Cross-Spectrum Coefficients (-");
phaseTitle.append("tspan").attr("font-family", "Liberation Serif").attr("font-style", "italic").attr("font-weight", "normal").text("π");
phaseTitle.append("tspan").text(" to ");
phaseTitle.append("tspan").attr("font-family", "Liberation Serif").attr("font-style", "italic").attr("font-weight", "normal").text("π");
phaseTitle.append("tspan").text(")");
</script>
</body>
</html>
